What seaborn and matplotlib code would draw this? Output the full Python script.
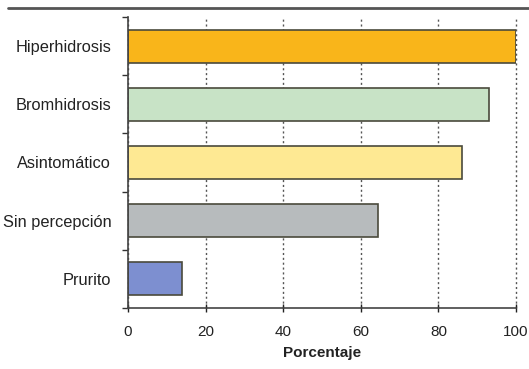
import pandas
import numpy as np
import seaborn
from matplotlib import pyplot as plt
from matplotlib import ticker
from matplotlib.lines import Line2D

categories = ["Hiperhidrosis", "Bromhidrosis", "Asintomático", "Sin percepción", "Prurito"]
percentages = [100, 93, 86, 64.5, 14]
bar_colors = ["#F9B51A", "#C8E3C6", "#FEE993", "#B7BBBD", "#7D8FD0"]
x_ticks = [0, 20, 40, 60, 80, 100]

df = pandas.DataFrame({"symptom": categories, "pct": percentages})

seaborn.set_theme(style="white")
plt.rcParams["font.family"] = ["Liberation Sans", "DejaVu Sans"]

fig = plt.figure(figsize=(5.29, 3.69), dpi=100)
ax = fig.add_axes([128 / 529, 1 - 308 / 369, (516 - 128) / 529, (308 - 17) / 369])

seaborn.barplot(
    data=df,
    x="pct",
    y="symptom",
    hue="symptom",
    order=categories,
    palette=dict(zip(categories, bar_colors)),
    saturation=1,
    width=0.57,
    edgecolor="#4a4a3c",
    linewidth=1.2,
    legend=False,
    ax=ax,
)

ax.set_xlim(0, 100)
ax.set_ylim(4.5, -0.5)
ax.set_xticks(x_ticks)
ax.xaxis.grid(True, linestyle=(0, (1.5, 2)), color="#555555", linewidth=1)
for gl in ax.get_xgridlines():
    gl.set_clip_on(False)
ax.set_axisbelow(True)

# ticks between categories on the y axis
ax.yaxis.set_minor_locator(ticker.FixedLocator(np.arange(-0.5, 5, 1)))
ax.tick_params(axis="y", which="major", length=0, labelsize=11.8, colors="#222222", pad=12)
ax.tick_params(axis="y", which="minor", length=4, width=1, direction="out", left=True, color="#333333")
ax.tick_params(axis="x", which="major", length=6, width=1, direction="inout", bottom=True,
               labelsize=11, colors="#222222", pad=9)

for side in ["top", "right"]:
    ax.spines[side].set_visible(False)
for side in ["left", "bottom"]:
    ax.spines[side].set_color("#444444")
    ax.spines[side].set_linewidth(1.2)

ax.set_ylabel("")
ax.set_xlabel("Porcentaje", fontsize=11, fontweight="bold", color="#222222", labelpad=5)

# page rule at the top
fig.add_artist(Line2D([8 / 529, 1], [1 - 8 / 369, 1 - 8 / 369], color="#555555", linewidth=2,
                      transform=fig.transFigure))

fig.savefig("out.png", dpi=100)
